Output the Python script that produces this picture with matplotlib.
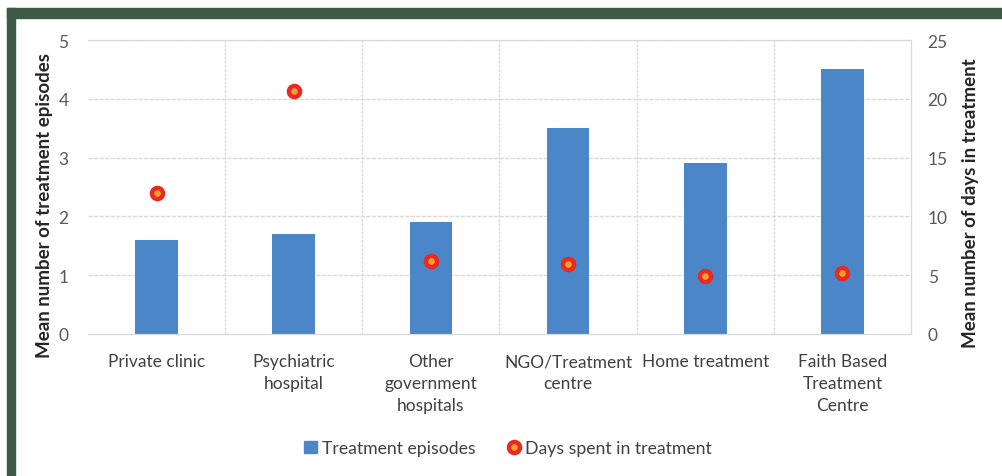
import numpy as np
import matplotlib
matplotlib.use("Agg")
import matplotlib.pyplot as plt
from matplotlib.patches import Rectangle
from matplotlib.lines import Line2D

categories = ["Private clinic", "Psychiatric\nhospital", "Other\ngovernment\nhospitals",
              "NGO/Treatment\ncentre", "Home treatment", "Faith Based\nTreatment\nCentre"]
episodes = [1.6, 1.7, 1.9, 3.5, 2.9, 4.5]
days = [12.0, 20.7, 6.2, 5.95, 4.9, 5.2]

plt.rcParams['font.family'] = ['Lato', 'DejaVu Sans']

fig = plt.figure(figsize=(10.02, 4.77), dpi=100)
ax = fig.add_axes([0.0878, 0.2977, 0.8214, 0.6163])
ax2 = ax.twinx()

x = np.arange(len(categories))
bar_col = "#4a86c8"
dot_face, dot_edge = "#f4a02a", "#e82a22"
ax.bar(x, episodes, width=0.31, color=bar_col, zorder=2)
ax2.plot(x, days, linestyle="none", marker="o", markersize=8,
         markerfacecolor=dot_face, markeredgecolor=dot_edge, markeredgewidth=3.2, zorder=3)

ax.set_xlim(-0.5, len(categories) - 0.5)
ax.set_ylim(0, 5)
ax2.set_ylim(0, 25)
ax.set_yticks(range(0, 6))
ax2.set_yticks(range(0, 26, 5))
ax.set_xticks(x)
ax.set_xticklabels(categories, fontsize=12.2, color="#404040", linespacing=1.45)

grid_col = "#d9d9d9"
for v in range(1, 6):
    ax.axhline(v, color=grid_col, lw=1, ls=(0, (3, 1)), zorder=0)
for b in np.arange(0.5, len(categories) - 0.5, 1):
    ax.axvline(b, color=grid_col, lw=1, ls=(0, (2, 1)), zorder=0)

for a in (ax, ax2):
    for s in a.spines.values():
        s.set_color(grid_col)
    a.spines['left'].set_visible(False)
    a.tick_params(length=0, labelsize=12.5, colors="#595959")
ax2.spines['right'].set_visible(True)
ax.tick_params(axis='x', pad=14, colors="#404040")
ax.tick_params(axis='y', pad=14)
ax2.tick_params(axis='y', pad=12)

ax.set_ylabel("Mean number of treatment episodes", fontsize=13.5, fontweight="bold",
              color="#262626")
ax2.set_ylabel("Mean number of days in treatment", fontsize=13.5, fontweight="bold",
               color="#262626")
ax.yaxis.set_label_coords(-0.043, 0.44)
ax2.yaxis.set_label_coords(1.062, 0.45)

handles = [
    Rectangle((0, 0), 1, 1, color=bar_col),
    Line2D([], [], linestyle="none", marker="o", markersize=8,
           markerfacecolor=dot_face, markeredgecolor=dot_edge, markeredgewidth=3.2),
]
fig.legend(handles, ["Treatment episodes", "Days spent in treatment"],
           loc="center", bbox_to_anchor=(0.507, 0.058), ncol=2, frameon=False,
           fontsize=12.7, handlelength=0.7, handletextpad=0.3, columnspacing=1.8,
           labelcolor="#404040")

# dark green frame along top and left
green = "#3d5a47"
fig.patches.append(Rectangle((7 / 1002, 1 - 19 / 477), 1, 10 / 477,
                             transform=fig.transFigure, color=green, zorder=0))
fig.patches.append(Rectangle((7 / 1002, 0), 8 / 1002, 1 - 9 / 477,
                             transform=fig.transFigure, color=green, zorder=0))

fig.savefig("out.png", dpi=100)
